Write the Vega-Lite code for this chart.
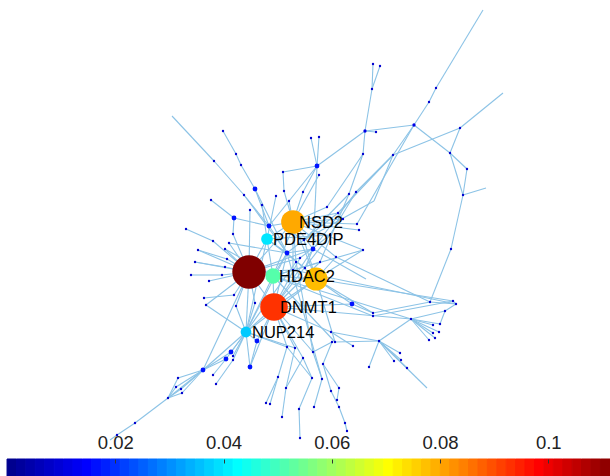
{
"$schema":"https://vega.github.io/schema/vega-lite/v6.json",
"padding":0,
"bounds":"flush",
"spacing":0,
"config":{"view":{"stroke":null},"font":"Liberation Sans"},
"resolve":{"scale":{"x":"independent","y":"independent","color":"shared"}},
"datasets":{
"nodes":[
{"x":373,"y":64,"v":0.008},{"x":380,"y":66,"v":0.008},{"x":372,"y":89,"v":0.008},{"x":376,"y":132,"v":0.008},{"x":436,"y":88,"v":0.008},{"x":429,"y":102,"v":0.008},{"x":460,"y":128,"v":0.008},{"x":450,"y":153,"v":0.008},{"x":467,"y":169,"v":0.008},{"x":463,"y":195,"v":0.008},{"x":451,"y":249,"v":0.008},{"x":363,"y":154,"v":0.008},{"x":393,"y":155,"v":0.008},{"x":311,"y":138,"v":0.008},{"x":319,"y":137,"v":0.008},{"x":223,"y":131,"v":0.008},{"x":214,"y":161,"v":0.008},{"x":236,"y":154,"v":0.008},{"x":241,"y":165,"v":0.008},{"x":244,"y":195,"v":0.008},{"x":211,"y":200,"v":0.008},{"x":250,"y":210,"v":0.008},{"x":262,"y":205,"v":0.008},{"x":276,"y":196,"v":0.008},{"x":283,"y":172,"v":0.008},{"x":284,"y":191,"v":0.008},{"x":303,"y":192,"v":0.008},{"x":319,"y":175,"v":0.008},{"x":289,"y":201,"v":0.008},{"x":349,"y":194,"v":0.008},{"x":356,"y":192,"v":0.008},{"x":327,"y":207,"v":0.008},{"x":338,"y":213,"v":0.008},{"x":343,"y":219,"v":0.008},{"x":357,"y":224,"v":0.008},{"x":359,"y":230,"v":0.008},{"x":330,"y":235,"v":0.008},{"x":363,"y":250,"v":0.008},{"x":336,"y":257,"v":0.008},{"x":304,"y":240,"v":0.008},{"x":291,"y":232,"v":0.008},{"x":320,"y":262,"v":0.008},{"x":300,"y":258,"v":0.008},{"x":305,"y":268,"v":0.008},{"x":296,"y":262,"v":0.008},{"x":293,"y":270,"v":0.008},{"x":186,"y":229,"v":0.008},{"x":213,"y":241,"v":0.008},{"x":198,"y":250,"v":0.008},{"x":227,"y":259,"v":0.008},{"x":195,"y":262,"v":0.008},{"x":225,"y":267,"v":0.008},{"x":191,"y":275,"v":0.008},{"x":222,"y":275,"v":0.008},{"x":209,"y":281,"v":0.008},{"x":204,"y":298,"v":0.008},{"x":234,"y":295,"v":0.008},{"x":229,"y":243,"v":0.008},{"x":225,"y":249,"v":0.008},{"x":233,"y":234,"v":0.008},{"x":206,"y":305,"v":0.008},{"x":236,"y":306,"v":0.008},{"x":255,"y":303,"v":0.008},{"x":373,"y":313,"v":0.008},{"x":373,"y":316,"v":0.008},{"x":430,"y":302,"v":0.008},{"x":453,"y":301,"v":0.008},{"x":456,"y":304,"v":0.008},{"x":445,"y":311,"v":0.008},{"x":411,"y":319,"v":0.008},{"x":433,"y":325,"v":0.008},{"x":440,"y":324,"v":0.008},{"x":439,"y":332,"v":0.008},{"x":435,"y":338,"v":0.008},{"x":429,"y":340,"v":0.008},{"x":433,"y":333,"v":0.008},{"x":331,"y":332,"v":0.008},{"x":335,"y":342,"v":0.008},{"x":332,"y":342,"v":0.008},{"x":353,"y":346,"v":0.008},{"x":379,"y":341,"v":0.008},{"x":400,"y":353,"v":0.008},{"x":394,"y":361,"v":0.008},{"x":407,"y":368,"v":0.008},{"x":369,"y":367,"v":0.008},{"x":401,"y":360,"v":0.008},{"x":287,"y":347,"v":0.008},{"x":295,"y":348,"v":0.008},{"x":303,"y":358,"v":0.008},{"x":313,"y":352,"v":0.008},{"x":323,"y":364,"v":0.008},{"x":278,"y":377,"v":0.008},{"x":270,"y":404,"v":0.008},{"x":266,"y":403,"v":0.008},{"x":286,"y":388,"v":0.008},{"x":282,"y":417,"v":0.008},{"x":312,"y":378,"v":0.008},{"x":299,"y":409,"v":0.008},{"x":300,"y":438,"v":0.008},{"x":322,"y":379,"v":0.008},{"x":314,"y":407,"v":0.008},{"x":339,"y":388,"v":0.008},{"x":337,"y":400,"v":0.008},{"x":331,"y":391,"v":0.008},{"x":339,"y":407,"v":0.008},{"x":345,"y":423,"v":0.008},{"x":347,"y":431,"v":0.008},{"x":233,"y":356,"v":0.008},{"x":233,"y":360,"v":0.008},{"x":213,"y":375,"v":0.008},{"x":216,"y":384,"v":0.008},{"x":178,"y":378,"v":0.008},{"x":176,"y":387,"v":0.008},{"x":181,"y":389,"v":0.008},{"x":182,"y":393,"v":0.008},{"x":168,"y":398,"v":0.008},{"x":135,"y":423,"v":0.008},{"x":117,"y":435,"v":0.008},
{"x":365,"y":131,"v":0.011},{"x":414,"y":125,"v":0.011},{"x":317,"y":166,"v":0.016},{"x":255,"y":189,"v":0.016},{"x":234,"y":218,"v":0.016},{"x":269,"y":226,"v":0.016},{"x":287,"y":253,"v":0.016},{"x":313,"y":249,"v":0.016},{"x":257,"y":341,"v":0.016},{"x":352,"y":304,"v":0.016},{"x":231,"y":352,"v":0.016},{"x":226,"y":359,"v":0.016},{"x":250,"y":367,"v":0.016},{"x":203,"y":370,"v":0.016},
{"x":246,"y":332,"v":0.036,"label":"NUP214"},
{"x":267,"y":239,"v":0.039,"label":"PDE4DIP"},
{"x":273,"y":276,"v":0.051,"label":"HDAC2"},
{"x":316,"y":279,"v":0.077},
{"x":293,"y":222,"v":0.079,"label":"NSD2"},
{"x":274,"y":307,"v":0.092,"label":"DNMT1"},
{"x":249,"y":272,"v":0.1114}
],
"edges":[
{"x":483,"y":10,"x2":436,"y2":88},{"x":436,"y":88,"x2":429,"y2":102},{"x":429,"y":102,"x2":414,"y2":125},{"x":373,"y":64,"x2":372,"y2":89},{"x":380,"y":66,"x2":372,"y2":89},{"x":372,"y":89,"x2":365,"y2":131},{"x":365,"y":131,"x2":414,"y2":125},{"x":365,"y":131,"x2":376,"y2":132},{"x":365,"y":131,"x2":363,"y2":154},{"x":365,"y":131,"x2":317,"y2":166},{"x":414,"y":125,"x2":393,"y2":155},{"x":414,"y":125,"x2":450,"y2":153},{"x":393,"y":155,"x2":460,"y2":128},{"x":460,"y":128,"x2":503,"y2":93},{"x":460,"y":128,"x2":450,"y2":153},{"x":450,"y":153,"x2":467,"y2":169},{"x":467,"y":169,"x2":463,"y2":195},{"x":450,"y":153,"x2":463,"y2":195},{"x":463,"y":195,"x2":486,"y2":188},{"x":463,"y":195,"x2":451,"y2":249},{"x":451,"y":249,"x2":430,"y2":302},{"x":393,"y":155,"x2":356,"y2":192},{"x":393,"y":155,"x2":338,"y2":213},{"x":363,"y":154,"x2":349,"y2":194},{"x":363,"y":154,"x2":327,"y2":207},{"x":414,"y":125,"x2":357,"y2":224},{"x":393,"y":155,"x2":374,"y2":201},{"x":349,"y":194,"x2":304,"y2":240},{"x":356,"y":192,"x2":313,"y2":249},
{"x":172,"y":116,"x2":214,"y2":161},{"x":214,"y":161,"x2":244,"y2":195},{"x":244,"y":195,"x2":269,"y2":226},{"x":223,"y":131,"x2":236,"y2":154},{"x":236,"y":154,"x2":241,"y2":165},{"x":241,"y":165,"x2":255,"y2":189},{"x":255,"y":189,"x2":269,"y2":226},{"x":255,"y":189,"x2":287,"y2":253},{"x":211,"y":200,"x2":234,"y2":218},{"x":234,"y":218,"x2":269,"y2":226},{"x":234,"y":218,"x2":233,"y2":234},{"x":233,"y":234,"x2":249,"y2":272},{"x":250,"y":210,"x2":249,"y2":272},{"x":262,"y":205,"x2":267,"y2":239},{"x":276,"y":196,"x2":267,"y2":239},{"x":283,"y":172,"x2":284,"y2":191},{"x":284,"y":191,"x2":293,"y2":222},{"x":283,"y":172,"x2":317,"y2":166},{"x":303,"y":192,"x2":293,"y2":222},{"x":317,"y":166,"x2":303,"y2":192},{"x":319,"y":175,"x2":293,"y2":222},{"x":311,"y":138,"x2":317,"y2":166},{"x":319,"y":137,"x2":317,"y2":166},{"x":317,"y":166,"x2":313,"y2":249},{"x":289,"y":201,"x2":293,"y2":222},{"x":317,"y":166,"x2":269,"y2":226},{"x":244,"y":195,"x2":287,"y2":253},
{"x":186,"y":229,"x2":213,"y2":241},{"x":213,"y":241,"x2":249,"y2":272},{"x":198,"y":250,"x2":227,"y2":259},{"x":227,"y":259,"x2":249,"y2":272},{"x":195,"y":262,"x2":225,"y2":267},{"x":225,"y":267,"x2":249,"y2":272},{"x":191,"y":275,"x2":222,"y2":275},{"x":222,"y":275,"x2":249,"y2":272},{"x":209,"y":281,"x2":249,"y2":272},{"x":204,"y":298,"x2":234,"y2":295},{"x":234,"y":295,"x2":249,"y2":272},{"x":229,"y":243,"x2":249,"y2":272},{"x":225,"y":249,"x2":249,"y2":272},{"x":198,"y":250,"x2":249,"y2":272},{"x":195,"y":262,"x2":249,"y2":272},{"x":206,"y":305,"x2":249,"y2":272},{"x":236,"y":306,"x2":249,"y2":272},{"x":255,"y":303,"x2":249,"y2":272},{"x":229,"y":243,"x2":287,"y2":253},{"x":225,"y":249,"x2":273,"y2":276},
{"x":293,"y":222,"x2":327,"y2":207},{"x":293,"y":222,"x2":338,"y2":213},{"x":293,"y":222,"x2":343,"y2":219},{"x":293,"y":222,"x2":357,"y2":224},{"x":293,"y":222,"x2":359,"y2":230},{"x":267,"y":239,"x2":330,"y2":235},{"x":273,"y":276,"x2":363,"y2":250},{"x":316,"y":279,"x2":363,"y2":250},{"x":316,"y":279,"x2":336,"y2":257},{"x":313,"y":249,"x2":366,"y2":279},{"x":304,"y":240,"x2":374,"y2":201},{"x":320,"y":262,"x2":349,"y2":194},{"x":330,"y":235,"x2":356,"y2":192},{"x":287,"y":253,"x2":338,"y2":213},
{"x":267,"y":239,"x2":293,"y2":222},{"x":267,"y":239,"x2":273,"y2":276},{"x":267,"y":239,"x2":287,"y2":253},{"x":267,"y":239,"x2":249,"y2":272},{"x":269,"y":226,"x2":293,"y2":222},{"x":269,"y":226,"x2":287,"y2":253},{"x":287,"y":253,"x2":273,"y2":276},{"x":287,"y":253,"x2":316,"y2":279},{"x":287,"y":253,"x2":274,"y2":307},{"x":287,"y":253,"x2":313,"y2":249},{"x":293,"y":222,"x2":313,"y2":249},{"x":293,"y":222,"x2":291,"y2":232},{"x":291,"y":232,"x2":304,"y2":240},{"x":291,"y":232,"x2":273,"y2":276},{"x":304,"y":240,"x2":316,"y2":279},{"x":300,"y":258,"x2":249,"y2":272},{"x":300,"y":258,"x2":274,"y2":307},{"x":305,"y":268,"x2":267,"y2":239},{"x":296,"y":262,"x2":293,"y2":222},{"x":296,"y":262,"x2":246,"y2":332},{"x":293,"y":270,"x2":293,"y2":222},{"x":293,"y":270,"x2":249,"y2":272},{"x":320,"y":262,"x2":273,"y2":276},{"x":320,"y":262,"x2":274,"y2":307},{"x":313,"y":249,"x2":274,"y2":307},{"x":313,"y":249,"x2":249,"y2":272},{"x":330,"y":235,"x2":274,"y2":307},{"x":316,"y":279,"x2":274,"y2":307},{"x":316,"y":279,"x2":273,"y2":276},{"x":316,"y":279,"x2":293,"y2":222},{"x":273,"y":276,"x2":274,"y2":307},{"x":249,"y":272,"x2":274,"y2":307},{"x":249,"y":272,"x2":293,"y2":222},{"x":246,"y":332,"x2":273,"y2":276},{"x":246,"y":332,"x2":287,"y2":253},{"x":246,"y":332,"x2":267,"y2":239},{"x":246,"y":332,"x2":249,"y2":272},{"x":246,"y":332,"x2":274,"y2":307},{"x":246,"y":332,"x2":316,"y2":279},{"x":336,"y":257,"x2":293,"y2":222},{"x":363,"y":250,"x2":293,"y2":222},{"x":313,"y":249,"x2":305,"y2":268},{"x":300,"y":258,"x2":330,"y2":235},
{"x":274,"y":307,"x2":352,"y2":304},{"x":316,"y":279,"x2":352,"y2":304},{"x":352,"y":304,"x2":373,"y2":313},{"x":273,"y":276,"x2":373,"y2":316},{"x":373,"y":313,"x2":430,"y2":302},{"x":373,"y":316,"x2":453,"y2":301},{"x":274,"y":307,"x2":411,"y2":319},{"x":273,"y":276,"x2":411,"y2":319},{"x":316,"y":279,"x2":453,"y2":301},{"x":336,"y":257,"x2":430,"y2":302},{"x":293,"y":270,"x2":456,"y2":304},{"x":411,"y":319,"x2":445,"y2":311},{"x":445,"y":311,"x2":456,"y2":304},{"x":430,"y":302,"x2":456,"y2":304},{"x":453,"y":301,"x2":456,"y2":304},{"x":411,"y":319,"x2":433,"y2":325},{"x":411,"y":319,"x2":440,"y2":324},{"x":411,"y":319,"x2":439,"y2":332},{"x":411,"y":319,"x2":435,"y2":338},{"x":411,"y":319,"x2":429,"y2":340},{"x":411,"y":319,"x2":433,"y2":333},{"x":445,"y":311,"x2":440,"y2":324},{"x":274,"y":307,"x2":331,"y2":332},{"x":331,"y":332,"x2":379,"y2":341},{"x":335,"y":342,"x2":379,"y2":341},{"x":379,"y":341,"x2":400,"y2":353},{"x":379,"y":341,"x2":394,"y2":361},{"x":379,"y":341,"x2":407,"y2":368},{"x":379,"y":341,"x2":369,"y2":367},{"x":379,"y":341,"x2":401,"y2":360},{"x":379,"y":341,"x2":427,"y2":388},{"x":379,"y":341,"x2":411,"y2":319},{"x":331,"y":332,"x2":353,"y2":346},{"x":316,"y":279,"x2":373,"y2":313},
{"x":274,"y":307,"x2":287,"y2":347},{"x":274,"y":307,"x2":295,"y2":348},{"x":274,"y":307,"x2":303,"y2":358},{"x":274,"y":307,"x2":313,"y2":352},{"x":246,"y":332,"x2":287,"y2":347},{"x":246,"y":332,"x2":295,"y2":348},{"x":287,"y":347,"x2":278,"y2":377},{"x":278,"y":377,"x2":270,"y2":404},{"x":278,"y":377,"x2":266,"y2":403},{"x":295,"y":348,"x2":286,"y2":388},{"x":286,"y":388,"x2":282,"y2":417},{"x":303,"y":358,"x2":312,"y2":378},{"x":312,"y":378,"x2":299,"y2":409},{"x":299,"y":409,"x2":300,"y2":438},{"x":313,"y":352,"x2":322,"y2":379},{"x":322,"y":379,"x2":314,"y2":407},{"x":332,"y":342,"x2":323,"y2":364},{"x":323,"y":364,"x2":339,"y2":388},{"x":339,"y":388,"x2":337,"y2":400},{"x":331,"y":391,"x2":339,"y2":407},{"x":339,"y":407,"x2":345,"y2":423},{"x":345,"y":423,"x2":347,"y2":431},{"x":323,"y":364,"x2":331,"y2":391},{"x":313,"y":352,"x2":332,"y2":342},{"x":335,"y":342,"x2":316,"y2":279},{"x":287,"y":347,"x2":312,"y2":378},{"x":303,"y":358,"x2":286,"y2":388},{"x":296,"y":262,"x2":313,"y2":352},{"x":273,"y":276,"x2":335,"y2":342},{"x":287,"y":253,"x2":322,"y2":379},
{"x":246,"y":332,"x2":231,"y2":352},{"x":246,"y":332,"x2":226,"y2":359},{"x":246,"y":332,"x2":233,"y2":356},{"x":246,"y":332,"x2":233,"y2":360},{"x":246,"y":332,"x2":203,"y2":370},{"x":231,"y":352,"x2":203,"y2":370},{"x":226,"y":359,"x2":203,"y2":370},{"x":246,"y":332,"x2":250,"y2":367},{"x":257,"y":341,"x2":250,"y2":367},{"x":274,"y":307,"x2":250,"y2":367},{"x":246,"y":332,"x2":257,"y2":341},{"x":257,"y":341,"x2":274,"y2":307},{"x":233,"y":360,"x2":216,"y2":384},{"x":226,"y":359,"x2":213,"y2":375},{"x":203,"y":370,"x2":178,"y2":378},{"x":203,"y":370,"x2":176,"y2":387},{"x":203,"y":370,"x2":181,"y2":389},{"x":203,"y":370,"x2":182,"y2":393},{"x":178,"y":378,"x2":168,"y2":398},{"x":176,"y":387,"x2":168,"y2":398},{"x":181,"y":389,"x2":168,"y2":398},{"x":182,"y":393,"x2":168,"y2":398},{"x":203,"y":370,"x2":168,"y2":398},{"x":168,"y":398,"x2":135,"y2":423},{"x":135,"y":423,"x2":117,"y2":435},{"x":117,"y":435,"x2":110,"y2":440},{"x":246,"y":332,"x2":206,"y2":305},{"x":246,"y":332,"x2":236,"y2":306},{"x":246,"y":332,"x2":255,"y2":303},{"x":203,"y":370,"x2":249,"y2":272}
],
"bar":[
{"lo":0,"hi":0.00174},{"lo":0.00174,"hi":0.00348},{"lo":0.00348,"hi":0.00522},{"lo":0.00522,"hi":0.00696},{"lo":0.00696,"hi":0.0087},{"lo":0.0087,"hi":0.01044},{"lo":0.01044,"hi":0.01218},{"lo":0.01218,"hi":0.01392},{"lo":0.01392,"hi":0.01566},{"lo":0.01566,"hi":0.0174},{"lo":0.0174,"hi":0.01914},{"lo":0.01914,"hi":0.02088},{"lo":0.02088,"hi":0.02262},{"lo":0.02262,"hi":0.02436},{"lo":0.02436,"hi":0.0261},{"lo":0.0261,"hi":0.02784},{"lo":0.02784,"hi":0.02958},{"lo":0.02958,"hi":0.03132},{"lo":0.03132,"hi":0.03306},{"lo":0.03306,"hi":0.0348},{"lo":0.0348,"hi":0.03654},{"lo":0.03654,"hi":0.03828},{"lo":0.03828,"hi":0.04002},{"lo":0.04002,"hi":0.04176},{"lo":0.04176,"hi":0.0435},{"lo":0.0435,"hi":0.04524},{"lo":0.04524,"hi":0.04698},{"lo":0.04698,"hi":0.04872},{"lo":0.04872,"hi":0.05046},{"lo":0.05046,"hi":0.0522},{"lo":0.0522,"hi":0.05394},{"lo":0.05394,"hi":0.05568},{"lo":0.05568,"hi":0.05742},{"lo":0.05742,"hi":0.05916},{"lo":0.05916,"hi":0.0609},{"lo":0.0609,"hi":0.06264},{"lo":0.06264,"hi":0.06438},{"lo":0.06438,"hi":0.06612},{"lo":0.06612,"hi":0.06786},{"lo":0.06786,"hi":0.0696},{"lo":0.0696,"hi":0.07134},{"lo":0.07134,"hi":0.07308},{"lo":0.07308,"hi":0.07482},{"lo":0.07482,"hi":0.07656},{"lo":0.07656,"hi":0.0783},{"lo":0.0783,"hi":0.08004},{"lo":0.08004,"hi":0.08178},{"lo":0.08178,"hi":0.08352},{"lo":0.08352,"hi":0.08526},{"lo":0.08526,"hi":0.087},{"lo":0.087,"hi":0.08874},{"lo":0.08874,"hi":0.09048},{"lo":0.09048,"hi":0.09222},{"lo":0.09222,"hi":0.09396},{"lo":0.09396,"hi":0.0957},{"lo":0.0957,"hi":0.09744},{"lo":0.09744,"hi":0.09918},{"lo":0.09918,"hi":0.10092},{"lo":0.10092,"hi":0.10266},{"lo":0.10266,"hi":0.1044},{"lo":0.1044,"hi":0.10614},{"lo":0.10614,"hi":0.10788},{"lo":0.10788,"hi":0.10962},{"lo":0.10962,"hi":0.1114}
]
},
"vconcat":[
{
"width":610,"height":459,
"layer":[
{"data":{"name":"edges"},"mark":{"type":"rule","color":"#8cc3e6","strokeWidth":1.1},
"encoding":{
"x":{"field":"x","type":"quantitative","scale":{"domain":[0,610],"nice":false,"zero":false},"axis":null},
"y":{"field":"y","type":"quantitative","scale":{"domain":[0,459],"nice":false,"zero":false,"reverse":true},"axis":null},
"x2":{"field":"x2"},"y2":{"field":"y2"}}},
{"data":{"name":"nodes"},"mark":{"type":"circle","opacity":1},
"encoding":{
"x":{"field":"x","type":"quantitative"},
"y":{"field":"y","type":"quantitative"},
"size":{"field":"v","type":"quantitative","scale":{"type":"pow","exponent":2,"domain":[0,0.1114],"range":[0,1117]},"legend":null},
"color":{"field":"v","type":"quantitative","scale":{"domain":[0,0.1114],"range":["#00008f","#0000ff","#0080ff","#00ffff","#80ff80","#ffff00","#ff8000","#ff0000","#800000"],"interpolate":"rgb"},"legend":null}}},
{"data":{"name":"nodes"},"transform":[{"filter":"datum.label"}],"mark":{"type":"text","align":"left","baseline":"alphabetic","dx":6,"dy":6,"fontSize":16.5,"font":"Liberation Sans","color":"#000000"},
"encoding":{
"x":{"field":"x","type":"quantitative"},
"y":{"field":"y","type":"quantitative"},
"text":{"field":"label"}}}
]
},
{
"width":610,"height":17,
"data":{"name":"bar"},
"mark":{"type":"rect","strokeWidth":1},
"encoding":{
"x":{"field":"lo","type":"quantitative","scale":{"domain":[-0.0013,0.1114],"nice":false,"zero":false},
"axis":{"orient":"top","values":[0.02,0.04,0.06,0.08,0.1],"format":"~g","domain":false,"grid":false,"tickSize":-4,"tickColor":"#333333","tickWidth":1,"labelFontSize":18.5,"labelFont":"Liberation Sans","labelColor":"#222222","labelPadding":15,"labelBaseline":"alphabetic","title":null,"zindex":1}},
"x2":{"field":"hi"},
"color":{"field":"lo","type":"quantitative","scale":{"domain":[0,0.1114],"range":["#00008f","#0000ff","#0080ff","#00ffff","#80ff80","#ffff00","#ff8000","#ff0000","#800000"],"interpolate":"rgb"},"legend":null},
"stroke":{"field":"lo","type":"quantitative","scale":{"domain":[0,0.1114],"range":["#00008f","#0000ff","#0080ff","#00ffff","#80ff80","#ffff00","#ff8000","#ff0000","#800000"],"interpolate":"rgb"},"legend":null}
}
}
]
}
